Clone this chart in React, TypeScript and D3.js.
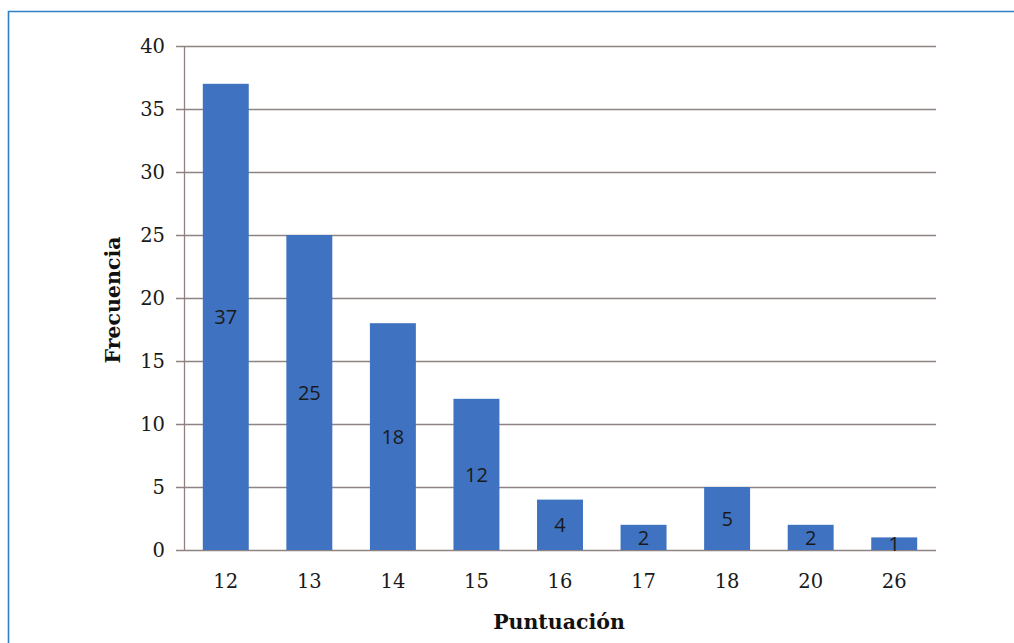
import React, { useEffect, useRef } from 'react';
import * as d3 from 'd3';

const categories = ['12', '13', '14', '15', '16', '17', '18', '20', '26'];
const frecuencias = [37, 25, 18, 12, 4, 2, 5, 2, 1];
const yTicks = [0, 5, 10, 15, 20, 25, 30, 35, 40];

const App = () => {
  const ref = useRef<SVGSVGElement | null>(null);

  useEffect(() => {
    const svg = d3.select(ref.current);
    svg.selectAll('*').remove();

    const W = 1014;
    const H = 643;
    const margin = { top: 46, right: 78, bottom: 93, left: 184 };

    svg.attr('width', W).attr('height', H).style('background', '#ffffff');

    // marco azul
    svg.append('path')
      .attr('d', `M8.5,${H} L8.5,11.5 L${W},11.5`)
      .attr('fill', 'none')
      .attr('stroke', '#2f7fc6')
      .attr('stroke-width', 1.6);

    const x = d3.scaleBand()
      .domain(categories)
      .range([margin.left, W - margin.right])
      .paddingInner(0.45)
      .paddingOuter(0.225);

    const y = d3.scaleLinear()
      .domain([0, 40])
      .range([H - margin.bottom, margin.top]);

    // rejilla
    svg.append('g')
      .selectAll('line')
      .data(yTicks)
      .enter().append('line')
      .attr('x1', margin.left - 8)
      .attr('x2', W - margin.right)
      .attr('y1', d => Math.round(y(d)) + 0.5)
      .attr('y2', d => Math.round(y(d)) + 0.5)
      .attr('stroke', '#8e8282')
      .attr('stroke-width', 1.3);

    // eje vertical
    svg.append('line')
      .attr('x1', margin.left + 0.5)
      .attr('x2', margin.left + 0.5)
      .attr('y1', y(40))
      .attr('y2', y(0))
      .attr('stroke', '#8e8282')
      .attr('stroke-width', 1.3);

    // barras
    svg.append('g')
      .selectAll('rect')
      .data(frecuencias)
      .enter().append('rect')
      .attr('x', (d, i) => x(categories[i]) as number)
      .attr('y', d => y(d))
      .attr('width', x.bandwidth())
      .attr('height', d => y(0) - y(d))
      .attr('fill', '#3f72c0');

    // etiquetas de datos
    svg.append('g')
      .selectAll('text')
      .data(frecuencias)
      .enter().append('text')
      .attr('x', (d, i) => (x(categories[i]) as number) + x.bandwidth() / 2)
      .attr('y', d => (y(d) + y(0)) / 2)
      .attr('dy', '0.36em')
      .attr('text-anchor', 'middle')
      .style('font-family', '"Open Sans", "Noto Sans", sans-serif')
      .style('font-size', '20px')
      .style('fill', '#1a1a1a')
      .text(d => d);

    // etiquetas eje Y
    svg.append('g')
      .selectAll('text')
      .data(yTicks)
      .enter().append('text')
      .attr('x', margin.left - 19)
      .attr('y', d => y(d))
      .attr('dy', '0.36em')
      .attr('text-anchor', 'end')
      .style('font-family', '"DejaVu Serif", serif')
      .style('font-size', '19.5px')
      .style('fill', '#1a1a1a')
      .text(d => d);

    // etiquetas eje X
    svg.append('g')
      .selectAll('text')
      .data(categories)
      .enter().append('text')
      .attr('x', d => (x(d) as number) + x.bandwidth() / 2)
      .attr('y', y(0) + 31)
      .attr('dy', '0.36em')
      .attr('text-anchor', 'middle')
      .style('font-family', '"DejaVu Serif", serif')
      .style('font-size', '19.5px')
      .style('fill', '#1a1a1a')
      .text(d => d);

    // titulos
    svg.append('text')
      .attr('transform', `translate(113,${(y(0) + y(40)) / 2 + 2}) rotate(-90)`)
      .attr('dy', '0.36em')
      .attr('text-anchor', 'middle')
      .style('font-family', '"DejaVu Serif", serif')
      .style('font-weight', 'bold')
      .style('font-size', '20.5px')
      .style('fill', '#111')
      .text('Frecuencia');

    svg.append('text')
      .attr('x', 559)
      .attr('y', 622)
      .attr('dy', '0.36em')
      .attr('text-anchor', 'middle')
      .style('font-family', '"DejaVu Serif", serif')
      .style('font-weight', 'bold')
      .style('font-size', '20.5px')
      .style('fill', '#111')
      .text('Puntuación');
  }, []);

  return (
    <svg ref={ref} style={{ position: 'absolute', left: 0, top: 0, display: 'block' }}></svg>
  );
};

export default App;
